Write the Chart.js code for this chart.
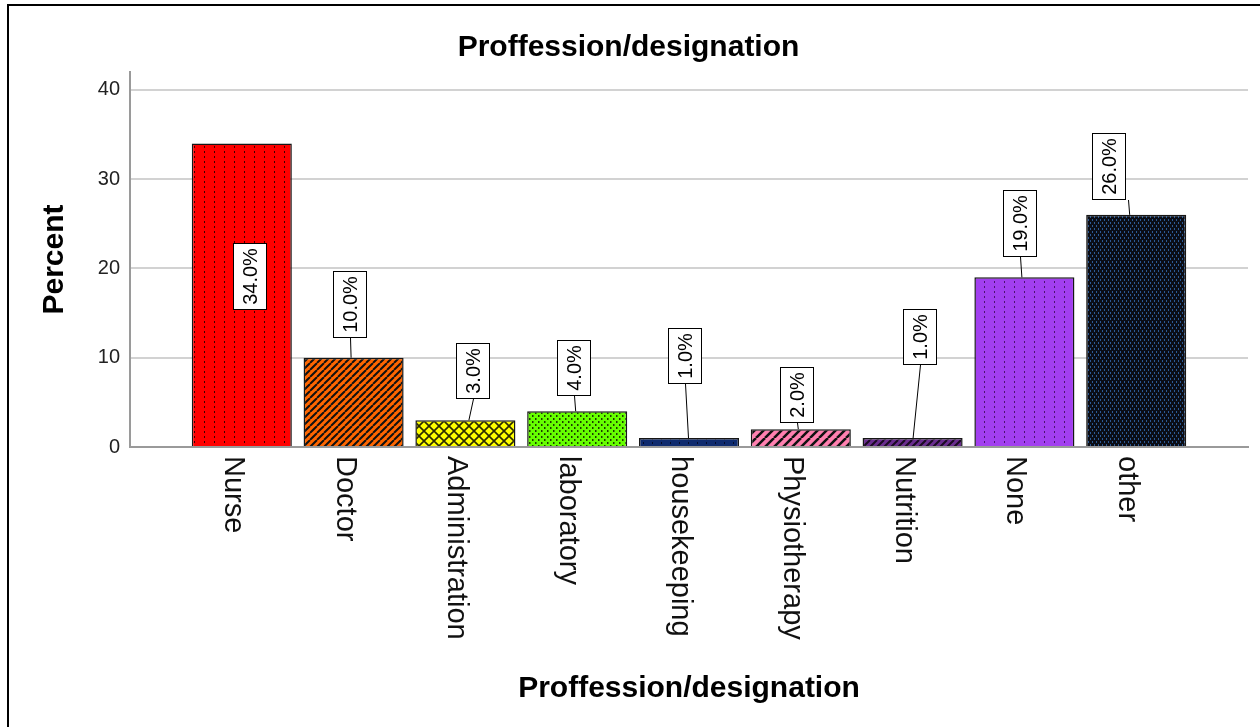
<!DOCTYPE html>
<html>
<head>
<meta charset="utf-8">
<script src="https://cdn.jsdelivr.net/npm/chart.js@4.4.1/dist/chart.umd.min.js"></script>
<style>
  html, body { margin: 0; padding: 0; background: #fff; overflow: hidden; width: 1260px; height: 727px; }
  #frame { position: absolute; left: 7px; top: 4px; width: 1300px; height: 800px;
           border-left: 2px solid #000; border-top: 2px solid #000; }
  #wrap { position: absolute; left: 9px; top: 6px; width: 1251px; height: 721px; }
</style>
</head>
<body>
<div id="frame"></div>
<div id="wrap"><canvas id="c" width="1251" height="721"></canvas></div>
<script>
// ---- data ----
const categories = ['Nurse', 'Doctor', 'Administration', 'laboratory', 'housekeeping',
                    'Physiotherapy', 'Nutrition', 'None', 'other'];
const percents = [34, 10, 3, 4, 1, 2, 1, 19, 26];
const yTicks = [0, 10, 20, 30, 40];

// ---- callout placement (box bottom on the value axis, pixel shifts) ----
const calloutBase = [15.35, 12.2, 5.4, 5.7, 7.1, 2.7, 9.2, 21.3, 27.7];
const calloutShift = [8, -4, 8, -3, -4, -4, 7, -4, -27];
const leaderTopShift = [0, 0, 0, 0, 0, 0, 0, 0, 19];
const leaderFootShift = [0, -3, 3, -2, -1, -3, 0, -3, -7];

const FONT = '"Liberation Sans", Arial, Helvetica, sans-serif';
Chart.defaults.font.family = FONT;

const canvas = document.getElementById('c');
const ctx = canvas.getContext('2d');

function tile(w, h, bg, draw) {
  const c = document.createElement('canvas');
  c.width = w; c.height = h;
  const g = c.getContext('2d');
  g.fillStyle = bg;
  g.fillRect(0, 0, w, h);
  draw(g, w, h);
  return ctx.createPattern(c, 'repeat');
}
function hatch(bg, fg, s, lw) {
  return tile(s, s, bg, (g) => {
    g.strokeStyle = fg; g.lineWidth = lw;
    g.beginPath();
    for (const o of [-s, 0, s]) { g.moveTo(o, s); g.lineTo(o + s, 0); }
    g.stroke();
  });
}
function dashes(bg, fg, w, h, spots) {
  return tile(w, h, bg, (g) => {
    g.fillStyle = fg;
    spots.forEach(([x, y, dw, dh]) => g.fillRect(x, y, dw, dh));
  });
}

const fills = [
  dashes('#ff0000', '#3a0000', 10, 5, [[5, 0, 1, 2]]),
  hatch('#ff6600', '#111', 7, 2),
  tile(10, 10, '#ffff00', (g) => {
    g.strokeStyle = '#2a2a00'; g.lineWidth = 1.6;
    g.beginPath(); g.moveTo(0, 0); g.lineTo(10, 10); g.moveTo(10, 0); g.lineTo(0, 10); g.stroke();
  }),
  dashes('#66ff00', '#1c3d00', 6, 6, [[1, 1, 1.5, 2], [4, 4, 1.5, 2]]),
  dashes('#0e2a6e', '#040c2a', 9, 4, [[4, 0, 1, 2]]),
  hatch('#ff80b0', '#111', 9, 2.5),
  hatch('#6a2d8f', '#1a0a22', 7, 2),
  dashes('#a23ff0', '#4a1470', 10, 5, [[5, 0, 1, 2]]),
  dashes('#0a0d16', '#2c5a95', 4, 6, [[1, 0, 1, 2], [3, 3, 1, 2]])
];

// half-slot padding at both ends of the category axis
const slotLabels = ['', ...categories, ''];
const slotValues = [null, ...percents, null];
const slotFills = ['#fff', ...fills, '#fff'];

// value callouts: white boxes with rotated percentage text and a leader to the bar
const calloutPlugin = {
  id: 'callouts',
  afterDatasetsDraw(chart) {
    const c = chart.ctx;
    const y = chart.scales.y;
    const bars = chart.getDatasetMeta(0).data;
    c.save();
    c.font = '20px ' + FONT;
    percents.forEach((v, k) => {
      const bar = bars[k + 1];
      const text = v.toFixed(1) + '%';
      const tw = c.measureText(text).width;
      const h = Math.round(tw + 10), w = 34;
      const cx = Math.round(bar.x + calloutShift[k]);
      const bottom = Math.round(y.getPixelForValue(calloutBase[k]));
      const top = bottom - h;
      if (bottom < bar.y - 1) {
        c.strokeStyle = '#000'; c.lineWidth = 1;
        c.beginPath();
        c.moveTo(cx + leaderTopShift[k] + 0.5, bottom);
        c.lineTo(bar.x + leaderFootShift[k] + 0.5, bar.y);
        c.stroke();
      }
      c.fillStyle = '#fff';
      c.fillRect(cx - w / 2, top, w, h);
      c.strokeStyle = '#000'; c.lineWidth = 1;
      c.strokeRect(cx - w / 2 + 0.5, top + 0.5, w - 1, h - 1);
      c.save();
      c.translate(cx, top + h / 2);
      c.rotate(-Math.PI / 2);
      c.fillStyle = '#000';
      c.textAlign = 'center';
      c.textBaseline = 'middle';
      c.fillText(text, 0, 1);
      c.restore();
    });
    c.restore();
  }
};

// category names, turned clockwise and hanging below the axis
const categoryLabelPlugin = {
  id: 'categoryLabels',
  afterDraw(chart) {
    const c = chart.ctx;
    const x = chart.scales.x;
    c.save();
    c.font = '29px ' + FONT;
    c.fillStyle = '#111';
    c.textAlign = 'left';
    c.textBaseline = 'alphabetic';
    categories.forEach((name, k) => {
      const px = x.getPixelForValue(k + 1);
      c.save();
      c.translate(px - 17, x.top + 9);
      c.rotate(Math.PI / 2);
      c.fillText(name, 0, 0);
      c.restore();
    });
    c.restore();
  }
};

const titleFont = { family: FONT, size: 30, weight: 'bold', lineHeight: 1.2 };

new Chart(ctx, {
  type: 'bar',
  data: {
    labels: slotLabels,
    datasets: [{
      data: slotValues,
      backgroundColor: slotFills,
      borderColor: '#161616',
      borderWidth: 1.5,
      categoryPercentage: 1,
      barPercentage: 0.895
    }]
  },
  options: {
    responsive: false,
    animation: false,
    devicePixelRatio: 1,
    layout: { padding: { left: 0, right: 12, top: 0, bottom: 0 } },
    plugins: {
      legend: { display: false },
      tooltip: { enabled: false },
      title: {
        display: true,
        text: 'Proffession/designation',
        color: '#000',
        font: titleFont,
        padding: { top: 23.5, bottom: 6.5 }
      }
    },
    scales: {
      x: {
        type: 'category',
        offset: false,
        grid: { display: false, drawTicks: false },
        border: { display: true, color: '#9a9a9a', width: 2 },
        ticks: { display: false },
        title: {
          display: true,
          text: 'Proffession/designation',
          color: '#000',
          font: titleFont,
          padding: { top: 0, bottom: 20 }
        },
        afterFit(s) { s.height = 280; }
      },
      y: {
        min: 0,
        max: 42,
        ticks: { color: '#222', font: { size: 20 }, padding: 10 },
        afterBuildTicks(s) { s.ticks = yTicks.map(v => ({ value: v })); },
        grid: { color: '#d2d2d2', lineWidth: 2, drawTicks: false },
        border: { display: true, color: '#9a9a9a', width: 2 },
        title: {
          display: true,
          text: 'Percent',
          color: '#000',
          font: titleFont,
          padding: { top: 28, bottom: 0 }
        },
        afterFit(s) { s.width = 121; }
      }
    }
  },
  plugins: [calloutPlugin, categoryLabelPlugin]
});
</script>
</body>
</html>
